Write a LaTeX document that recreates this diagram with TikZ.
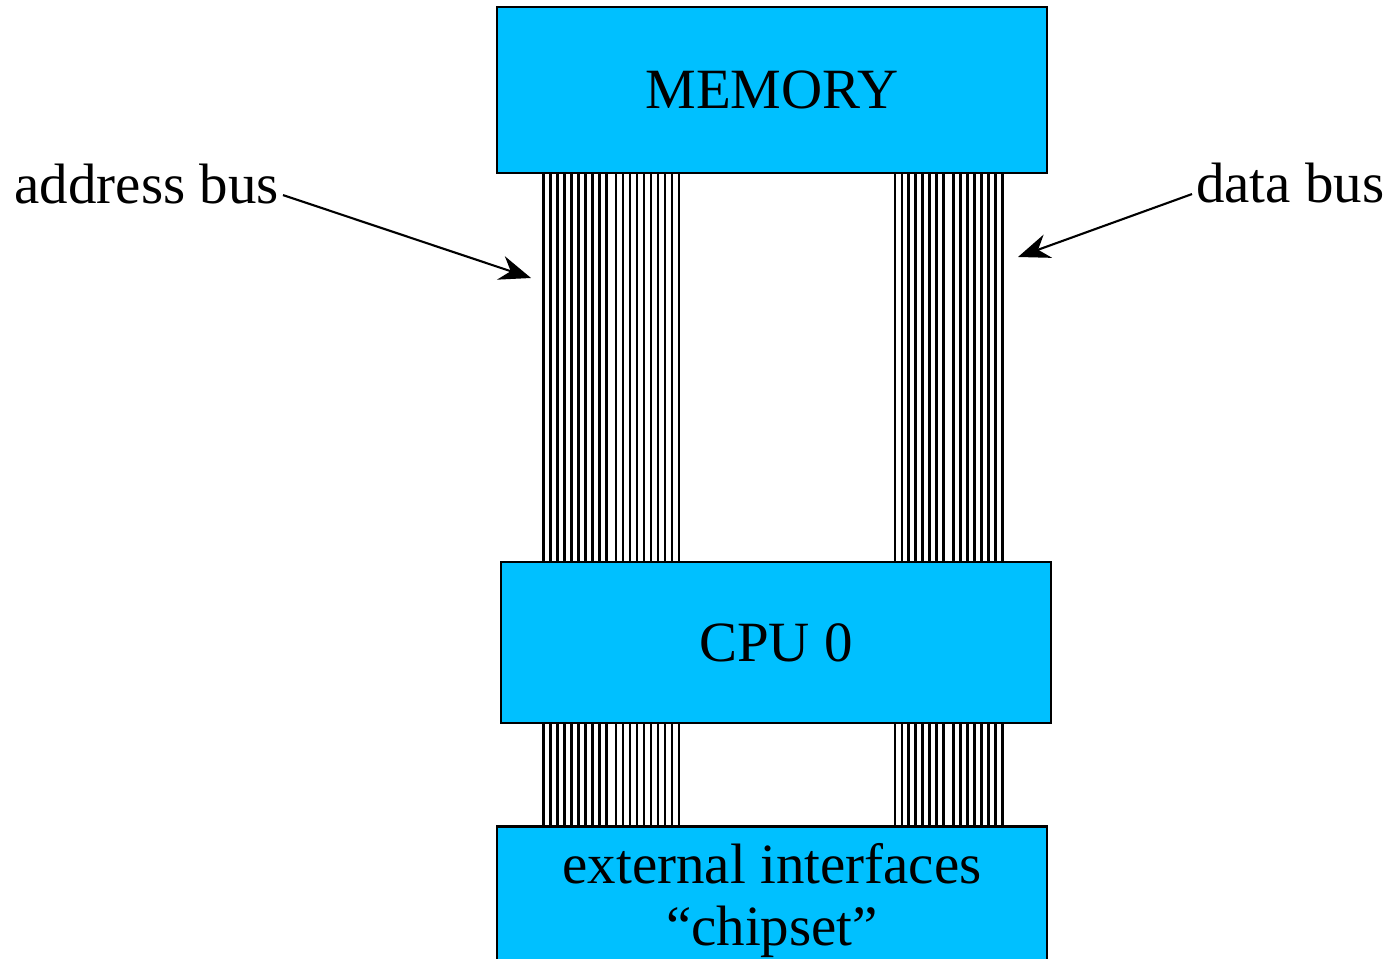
\documentclass[tikz,border=0pt]{standalone}
\usepackage{xcolor}
\usepackage{fontspec}
\setmainfont{Liberation Serif}
\usepackage{tikz}
\usetikzlibrary{arrows.meta}
\definecolor{chipblue}{RGB}{0,192,255}

\begin{document}
\begin{tikzpicture}[
    font=\fontsize{16.2pt}{17.6pt}\selectfont,
    chip/.style={draw, rectangle, fill=chipblue, line width=0.8pt, minimum width=5.5cm},
    wire/.style={line width=0.75pt},
    buslabel/.style={inner sep=1pt},
    pointer/.style={line width=0.6pt, -{Stealth[length=9pt, width=7pt]}}
  ]
  \useasboundingbox (0,0) rectangle (13.89,9.58);

  \node[chip, minimum height=1.66cm] (mem) at (7.72,8.68) {MEMORY};
  \node[chip, minimum height=1.61cm] (cpu) at (7.76,3.155) {CPU 0};
  \node[chip, anchor=north, align=center, inner ysep=4.8pt] (chipset) at (7.72,1.33) {external interfaces\\``chipset''};

  \foreach \x in {5.433,5.503,...,6.07, 6.16,6.23,...,6.80, 8.95,9.019,...,9.44, 9.533,9.603,...,10.03} {
    \draw[wire] (\x,0 |- mem.south) -- (\x,0 |- cpu.north);
    \draw[wire] (\x,0 |- cpu.south) -- (\x,0 |- chipset.north);
  }

  \node[buslabel, anchor=base east] (addrlbl) at (2.83,7.54) {address bus};
  \node[buslabel, anchor=base west] (datalbl) at (11.92,7.55) {data bus};
  \coordinate (addrtip) at (5.31,6.80);
  \coordinate (datatip) at (10.18,7.01);

  \draw[pointer] ([yshift=-3pt]addrlbl.east) -- (addrtip);
  \draw[pointer] ([yshift=-3pt]datalbl.west) -- (datatip);
\end{tikzpicture}
\end{document}
